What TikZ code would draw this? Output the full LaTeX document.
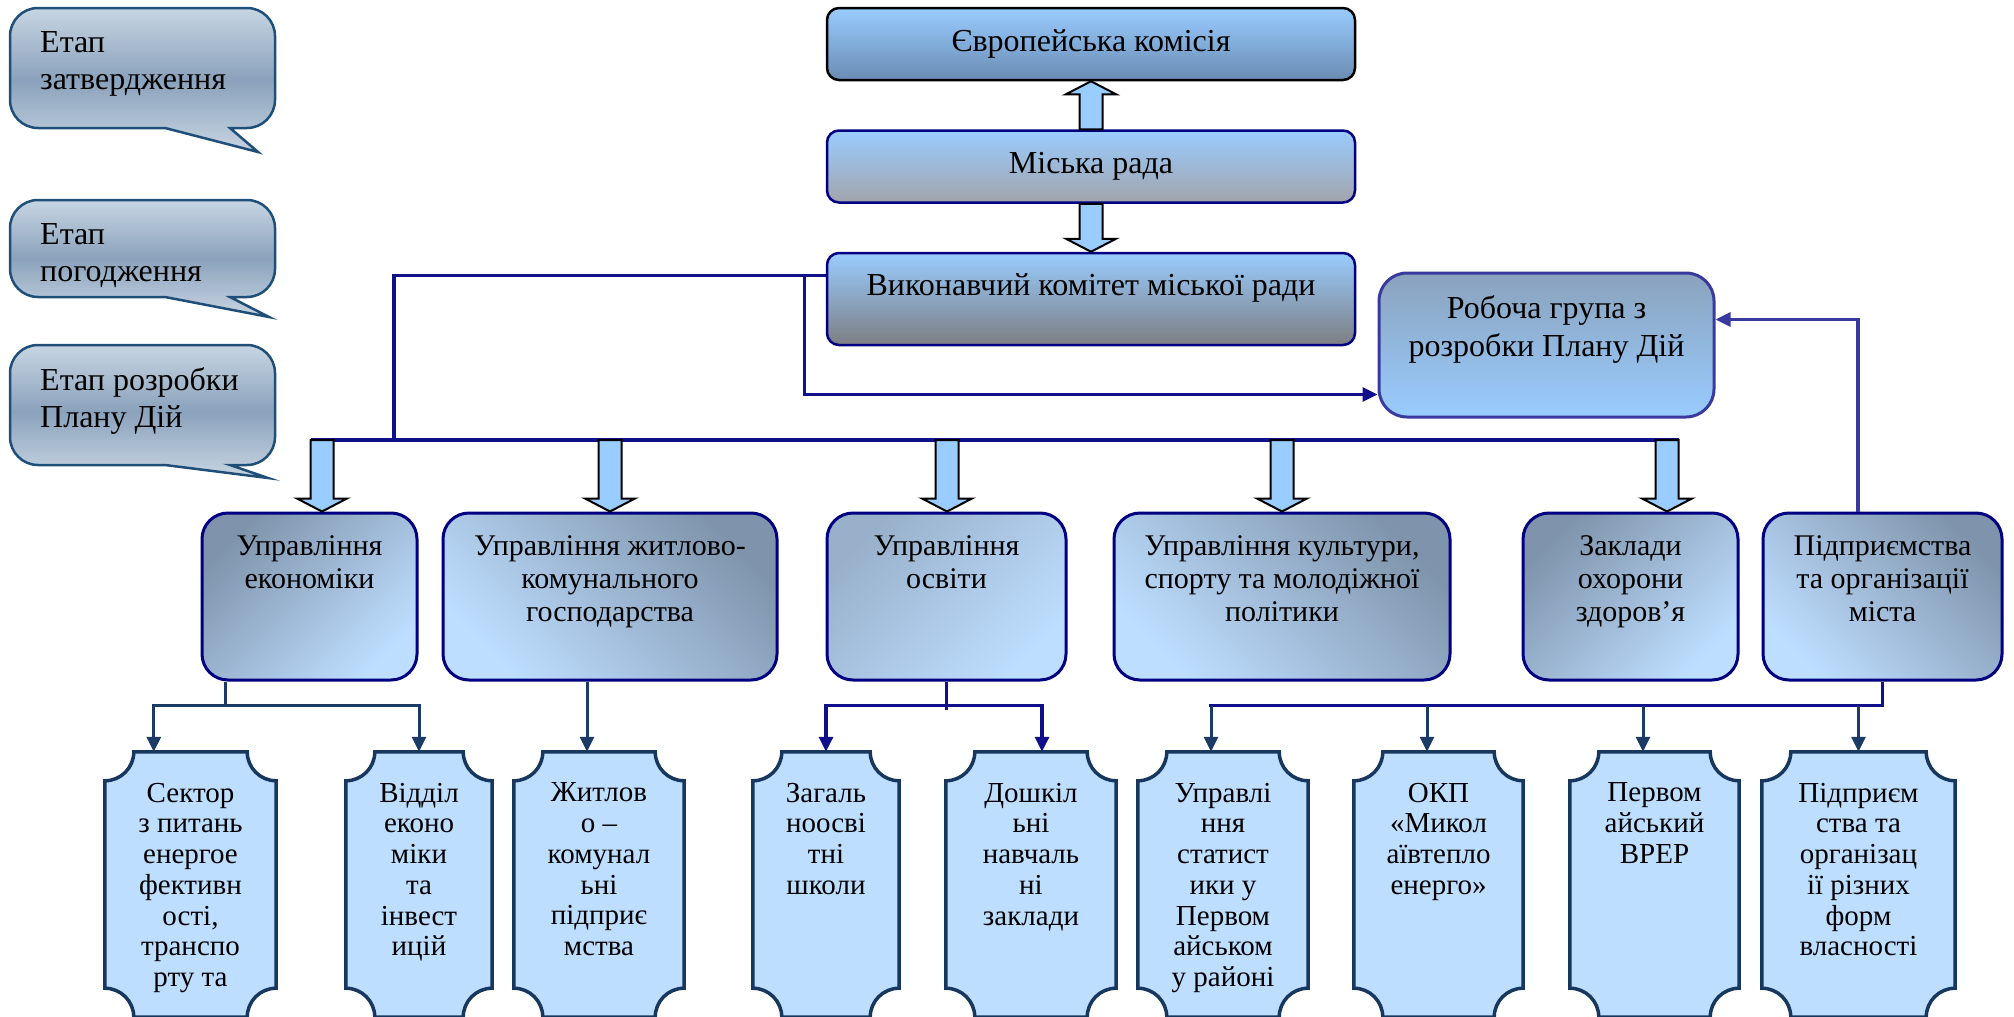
\documentclass[tikz,border=0pt]{standalone}
\usepackage{fontspec}
\setmainfont{Liberation Serif}
\usetikzlibrary{positioning,calc,arrows.meta}

\definecolor{skytop}{HTML}{99CCFF}
\definecolor{ekbottom}{HTML}{6A8CB3}
\definecolor{radabottom}{HTML}{A2A4AB}
\definecolor{vkbottom}{HTML}{7D7E82}
\definecolor{steeldark}{HTML}{8AA2BC}
\definecolor{paledark}{HTML}{7F94AC}
\definecolor{palemid}{HTML}{98B0CA}
\definecolor{palelight}{HTML}{BEDEFF}
\definecolor{boxnavy}{HTML}{000080}
\definecolor{linenavy}{HTML}{10108A}
\definecolor{slateblue}{HTML}{1B3A66}
\definecolor{violetblue}{HTML}{3A3A9E}
\definecolor{bubbleedge}{HTML}{C7D5E2}
\definecolor{bubblemid}{HTML}{8BA2BC}
\definecolor{bubbleline}{HTML}{1F4E79}
\definecolor{plaquefill}{HTML}{BDDEFF}
\definecolor{plaqueborder}{HTML}{17375E}

\tikzset{
  topbox/.style={draw=boxnavy, line width=2.5pt, rounded corners=12pt, minimum width=528pt,
    inner sep=0pt, font=\fontsize{32}{36}\selectfont},
  midbox/.style={draw=boxnavy, line width=3pt, rounded corners=26pt, minimum height=167pt, inner sep=0pt},
  darkleft/.style={top color=paledark, bottom color=palelight, shading angle=45},
  darkright/.style={top color=paledark, bottom color=palelight, shading angle=-45},
  mildleft/.style={top color=palemid, bottom color=palelight, shading angle=45},
  lbl/.style={align=center, inner sep=0pt, font=\fontsize{30}{33}\selectfont},
  smalllbl/.style={align=center, inner sep=0pt, font=\fontsize{29}{30.7}\selectfont},
  stagetext/.style={align=left, anchor=north west, inner sep=0pt, font=\fontsize{32}{37}\selectfont},
  plaquebox/.style={minimum height=265pt, inner sep=0pt},
  plaqueline/.style={draw=plaqueborder, line width=3.5pt, fill=plaquefill},
  bubble/.style={draw=bubbleline, line width=2.5pt, top color=bubbleedge, bottom color=bubbleedge, middle color=bubblemid},
  fatarrow/.style={draw=black, line width=2pt, fill=skytop},
  busline/.style={draw=linenavy, line width=3.2pt},
  twigline/.style={draw=slateblue, line width=3pt},
  headed/.style={-{Triangle[length=15pt,width=14pt]}}
}

% block arrows: #1 = base, #2 = tip
\newcommand{\fatdown}[2]{\draw[fatarrow] ($(#1)+(-11.5,0)$) -- ($(#2)+(-11.5,13)$) -- ($(#2)+(-25,13)$)
  -- (#2) -- ($(#2)+(25,13)$) -- ($(#2)+(11.5,13)$) -- ($(#1)+(11.5,0)$) -- cycle;}
\newcommand{\fatup}[2]{\draw[fatarrow] ($(#1)+(-11.5,0)$) -- ($(#2)+(-11.5,-13)$) -- ($(#2)+(-25,-13)$)
  -- (#2) -- ($(#2)+(25,-13)$) -- ($(#2)+(11.5,-13)$) -- ($(#1)+(11.5,0)$) -- cycle;}
% speech bubble: top y, bottom y, tail tip
\newcommand{\stagebubble}[4]{\draw[bubble] (10,#1-28) arc[start angle=180,end angle=90,radius=28pt]
  -- (247,#1) arc[start angle=90,end angle=0,radius=28pt]
  -- (275,#2+28) arc[start angle=0,end angle=-90,radius=28pt]
  -- (230,#2) -- (#3,#4) -- (165,#2)
  -- (38,#2) arc[start angle=270,end angle=180,radius=28pt] -- cycle;}
% plaque with cut corners round a node
\newcommand{\plaque}[1]{\draw[plaqueline] ($(#1.north west)+(0,-29)$) arc[start angle=-90,end angle=0,radius=29pt]
  -- ($(#1.north east)+(-29,0)$) arc[start angle=180,end angle=270,radius=29pt]
  -- ($(#1.south east)+(0,29)$) arc[start angle=90,end angle=180,radius=29pt]
  -- ($(#1.south west)+(29,0)$) arc[start angle=0,end angle=90,radius=29pt] -- cycle;}

\begin{document}
\begin{tikzpicture}[x=1pt,y=1pt]
\useasboundingbox (0,0) rectangle (2014,-1017);

% stages
\stagebubble{-8}{-128}{258}{-152}
\stagebubble{-200}{-297}{269}{-317}
\stagebubble{-345}{-465}{268}{-478}
\node[stagetext] (st1) at (40,-31) {Етап\\затвердження};
\node[stagetext] (st2) at (40,-223) {Етап\\погодження};
\node[stagetext] (st3) at (40,-367) {Етап розробки\\Плану Дій};

% top
\node[topbox, draw=black, top color=skytop, bottom color=ekbottom, minimum height=72pt] (ek) at (1091,-44) {Європейська комісія};
\node[topbox, top color=skytop, bottom color=radabottom, minimum height=72pt, below=48pt of ek] (rada) {Міська рада};
\node[topbox, top color=skytop, bottom color=vkbottom, minimum height=92pt, below=48pt of rada] (vk) {};
\node[lbl, font=\fontsize{32}{36}\selectfont, below=22pt of vk.north] (vktext) {Виконавчий комітет міської ради};
\fatup{rada.north}{ek.south}
\fatdown{rada.south}{vk.north}

\node[draw=violetblue, line width=3pt, rounded corners=28pt, top color=steeldark, bottom color=skytop,
  minimum width=335pt, minimum height=144pt, inner sep=0pt] (rob) at (1546.5,-345) {};
\node[lbl, font=\fontsize{32}{38}\selectfont, below=24pt of rob.north] (robtext) {Робоча група з\\розробки Плану Дій};

% departments
\node[midbox, darkleft, minimum width=215pt] (eco) at (309.5,-596.5) {};
\node[midbox, darkright, minimum width=334pt] (zhkg) at (610,-596.5) {};
\node[midbox, mildleft, minimum width=239pt] (osv) at (946.5,-596.5) {};
\node[midbox, darkright, minimum width=336pt] (kult) at (1282,-596.5) {};
\node[midbox, darkleft, minimum width=215pt] (zakl) at (1630.5,-596.5) {};
\node[midbox, darkright, minimum width=239pt] (pidm) at (1882.5,-596.5) {};
\node[lbl, below=24pt of eco.north] {Управління\\економіки};
\node[lbl, below=24pt of zhkg.north] {Управління житлово-\\комунального\\господарства};
\node[lbl, below=24pt of osv.north] {Управління\\освіти};
\node[lbl, below=24pt of kult.north] {Управління культури,\\спорту та молодіжної\\політики};
\node[lbl, below=24pt of zakl.north] {Заклади\\охорони\\здоров’я};
\node[lbl, below=24pt of pidm.north] {Підприємства\\та організації\\міста};

% bus
\coordinate (vkout) at ($(vk.north west)+(0,-24)$);
\coordinate (busL) at (394,-440);
\foreach \n/\dx in {eco/12.5, zhkg/0, osv/0.5, kult/0, zakl/36.5} {
  \coordinate (t\n) at ($(\n.north)+(\dx,0)$);
  \coordinate (s\n) at (t\n |- busL);
}
\draw[busline] (vkout) -| (busL);
\draw[busline] ($(seco)+(-11.5,0)$) -- ($(szakl)+(11.5,0)$);
\foreach \n in {eco,zhkg,osv,kult,zakl} {\fatdown{s\n}{t\n}}

\coordinate (robin) at ($(rob.south west)+(0,24)$);
\draw[busline, headed] ($(vkout)+(-21,0)$) |- (robin);
\coordinate (robR) at ($(rob.north east)+(0,-48)$);
\draw[busline, draw=violetblue, headed] ($(pidm.north)+(-24.5,0)$) |- (robR);

% units
\node[plaquebox, minimum width=171pt] (sek) at (190.5,-884.5) {};
\node[plaquebox, minimum width=146pt] (vid) at (419,-884.5) {};
\node[plaquebox, minimum width=170pt] (zhyt) at (599,-884.5) {};
\node[plaquebox, minimum width=146pt] (zag) at (826,-884.5) {};
\node[plaquebox, minimum width=170pt] (dosh) at (1031,-884.5) {};
\node[plaquebox, minimum width=170pt] (stat) at (1223,-884.5) {};
\node[plaquebox, minimum width=169pt] (okp) at (1438.5,-884.5) {};
\node[plaquebox, minimum width=169pt] (vrer) at (1654.5,-884.5) {};
\node[plaquebox, minimum width=193pt] (pidr) at (1858.5,-884.5) {};
\foreach \n in {sek,vid,zhyt,zag,dosh,stat,okp,vrer,pidr} {\plaque{\n}}
\node[smalllbl, below=31pt of sek.north] {Сектор\\з питань\\енергое\\фективн\\ості,\\транспо\\рту та};
\node[smalllbl, below=31pt of vid.north] {Відділ\\еконо\\міки\\та\\інвест\\ицій};
\node[smalllbl, below=31pt of zhyt.north] {Житлов\\о –\\комунал\\ьні\\підприє\\мства};
\node[smalllbl, below=31pt of zag.north] {Загаль\\ноосві\\тні\\школи};
\node[smalllbl, below=31pt of dosh.north] {Дошкіл\\ьні\\навчаль\\ні\\заклади};
\node[smalllbl, below=31pt of stat.north] {Управлі\\ння\\статист\\ики у\\Первом\\айськом\\у районі};
\node[smalllbl, below=31pt of okp.north] {ОКП\\«Микол\\аївтепло\\енерго»};
\node[smalllbl, below=31pt of vrer.north] {Первом\\айський\\ВРЕР};
\node[smalllbl, below=31pt of pidr.north] {Підприєм\\ства та\\організац\\ії різних\\форм\\власності};

% economy
\coordinate (eco1) at ($(eco.south west)+(25,0)$);
\coordinate (ecoj) at ($(eco1)+(0,-24)$);
\draw[twigline] (eco1) -- (ecoj);
\draw[twigline, headed] (ecoj) -| ($(sek.north west)+(49,0)$);
\draw[twigline, headed] (ecoj) -| (vid.north);
% housing
\coordinate (zh1) at ($(zhyt.north)+(-12,0)$);
\draw[twigline, headed] (zh1 |- zhkg.south) -- (zh1);
% education
\coordinate (osvj) at ($(osv.south)+(0,-24)$);
\draw[busline] (osv.south) -- ++(0,-28);
\draw[busline, headed] (osvj) -| (zag.north);
\draw[busline, headed] (osvj) -| ($(dosh.north)+(11,0)$);
% enterprises
\coordinate (pj) at ($(pidm.south)+(0,-24)$);
\foreach \n/\dx in {stat/-12, okp/-11.5, vrer/-11.5, pidr/0}
  \coordinate (a\n) at ($(\n.north)+(\dx,0)$);
\draw[busline] (pidm.south) -- (pj) -- ($(pj -| astat)+(-1.6,0)$);
\foreach \n in {stat,okp,vrer,pidr}
  \draw[twigline, headed] (a\n |- pj) -- (a\n);
\end{tikzpicture}
\end{document}
